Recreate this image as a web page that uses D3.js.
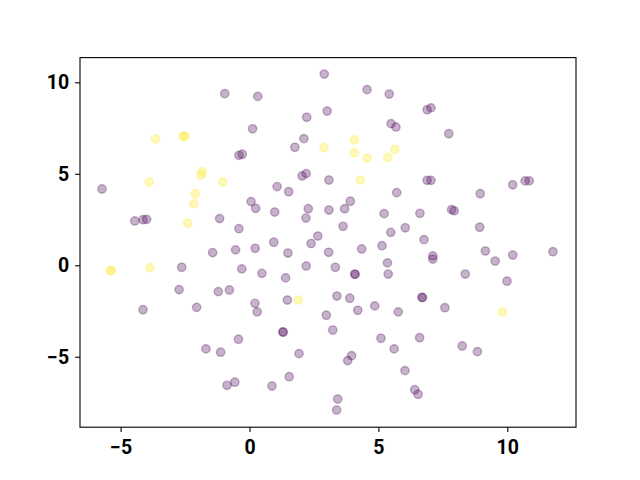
<!DOCTYPE html>
<html>
<head>
<meta charset="utf-8">
<script src="https://cdn.jsdelivr.net/npm/d3@7"></script>
<style>
  body { margin: 0; background: #fff; }
  svg { display: block; }
  .tick text { font-family: Roboto, "DejaVu Sans", sans-serif; font-weight: bold; font-size: 19.5px; fill: #000; }
</style>
</head>
<body>
<svg id="canvas" width="640" height="480"></svg>
<script>
const svg = d3.select("#canvas");
const width = 640;
const height = 480;
const margin = { left: 80, right: 64, top: 57.6, bottom: 52.8 };

// purple points (class 0)
const purpleX = [-0.96, -0.41, -0.28, -5.72, -4.45, -4.13, -3.99, -1.16, -0.41, 0.06,
    2.90, 0.32, 4.56, 5.42, 3.01, 2.22, 0.12, 5.49, 5.68, 2.11,
    1.76, 2.04, 2.20, 3.08, 1.07, 1.52, 5.71, 0.24, 3.91, 0.98,
    2.28, 2.19, 3.08, 3.69, 5.22, 3.63, 6.04, 5.48, 2.65, 0.94,
    2.39, 6.89, 7.04, 7.73, 6.89, 7.04, 10.21, 10.69, 10.85, 8.95,
    6.61, 7.84, 7.94, 8.93, 6.77, -1.43, -0.54, -0.30, -2.63, -2.73,
    -1.21, -0.78, -4.13, -2.05, -0.43, -1.69, -1.12, -0.87, -0.57, 0.22,
    1.49, 3.07, 4.35, 5.14, 0.48, 2.20, 3.33, 4.08, 4.10, 5.35,
    5.38, 1.40, 0.21, 0.30, 1.47, 3.39, 3.89, 4.20, 4.86, 5.77,
    2.98, 1.29, 1.31, 3.23, 5.10, 5.61, 1.92, 3.96, 3.81, 6.03,
    1.54, 0.87, 6.41, 6.54, 3.42, 3.38, 7.11, 7.11, 9.15, 9.53,
    10.21, 11.77, 8.37, 9.99, 6.69, 6.71, 7.58, 6.60, 8.25, 8.84];
const purpleY = [9.38, 6.01, 6.07, 4.17, 2.42, 2.49, 2.51, 2.55, 2.00, 3.48,
    10.45, 9.23, 9.60, 9.36, 8.43, 8.09, 7.46, 7.74, 7.56, 6.92,
    6.45, 4.88, 5.01, 4.66, 4.30, 4.02, 3.97, 3.11, 3.50, 2.91,
    3.09, 2.58, 3.02, 3.09, 2.82, 2.13, 2.05, 1.80, 1.60, 1.26,
    1.19, 8.50, 8.60, 7.19, 4.64, 4.64, 4.40, 4.61, 4.61, 3.91,
    2.84, 3.04, 2.98, 2.08, 1.40, 0.69, 0.84, -0.20, -0.11, -1.33,
    -1.44, -1.35, -2.43, -2.30, -4.04, -4.57, -4.75, -6.56, -6.39, 0.93,
    0.67, 0.71, 0.89, 1.07, -0.44, -0.04, -0.11, -0.48, -0.50, 0.13,
    -0.48, -0.69, -2.08, -2.55, -1.90, -1.68, -1.80, -2.46, -2.22, -2.55,
    -2.73, -3.64, -3.66, -3.54, -3.99, -4.57, -4.83, -4.94, -5.21, -5.76,
    -6.09, -6.60, -6.80, -7.05, -7.31, -7.91, 0.51, 0.34, 0.78, 0.23,
    0.56, 0.74, -0.48, -0.87, -1.75, -1.77, -2.32, -3.96, -4.41, -4.72];

// yellow points (class 1)
const yellowX = [-3.65, -2.58, -2.50, -1.83, -1.88, -3.89, -1.04, -2.10, -2.16, -2.40,
    2.89, 4.07, 4.07, 4.56, 5.36, 5.64, 4.30, -5.40, -5.35, -3.86,
    1.89, 9.81];
const yellowY = [6.90, 7.05, 7.05, 5.11, 4.93, 4.55, 4.55, 3.91, 3.37, 2.30,
    6.43, 6.85, 6.15, 5.85, 5.90, 6.34, 4.66, -0.30, -0.28, -0.13,
    -1.90, -2.55];

const xTicks = [-5, 0, 5, 10];
const yTicks = [-5, 0, 5, 10];

const points = [];
purpleX.forEach((x, i) => points.push({ x: x, y: purpleY[i], c: "#440154" }));
yellowX.forEach((x, i) => points.push({ x: x, y: yellowY[i], c: "#fde725" }));

const x = d3.scaleLinear()
    .domain([-6.575, 12.665])
    .range([margin.left, width - margin.right]);
const y = d3.scaleLinear()
    .domain([-8.85, 11.35])
    .range([height - margin.bottom, margin.top]);

svg.append("g")
    .selectAll("circle")
    .data(points)
    .enter()
    .append("circle")
    .attr("cx", d => x(d.x))
    .attr("cy", d => y(d.y))
    .attr("r", 4.17)
    .attr("fill", d => d.c)
    .attr("fill-opacity", 0.3)
    .attr("stroke", d => d.c)
    .attr("stroke-opacity", 0.3)
    .attr("stroke-width", 1.4);

// frame
svg.append("rect")
    .attr("x", margin.left)
    .attr("y", margin.top)
    .attr("width", width - margin.left - margin.right)
    .attr("height", height - margin.top - margin.bottom)
    .attr("fill", "none")
    .attr("stroke", "#000")
    .attr("stroke-width", 1.1);

const xAxis = svg.append("g")
    .attr("transform", `translate(0,${height - margin.bottom})`)
    .call(d3.axisBottom(x).tickValues(xTicks).tickSize(4.9).tickPadding(8).tickSizeOuter(0));
const yAxis = svg.append("g")
    .attr("transform", `translate(${margin.left},0)`)
    .call(d3.axisLeft(y).tickValues(yTicks).tickSize(4.9).tickPadding(6).tickSizeOuter(0));

[xAxis, yAxis].forEach(a => {
    a.select(".domain").remove();
    a.selectAll(".tick line").attr("stroke", "#000").attr("stroke-width", 1.1);
});
</script>
</body>
</html>
